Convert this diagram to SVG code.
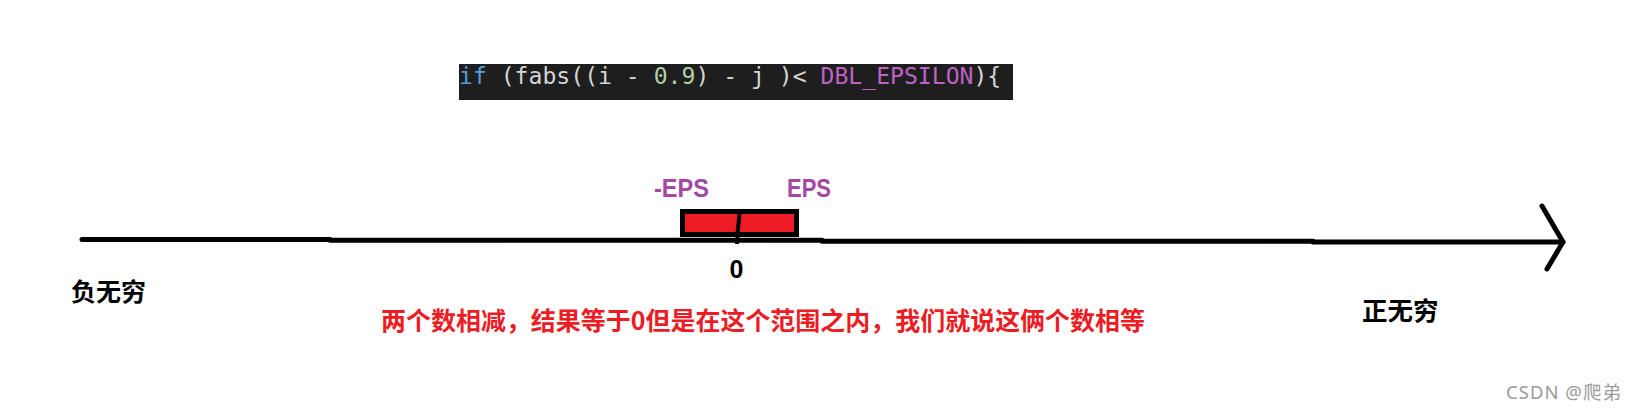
<svg xmlns="http://www.w3.org/2000/svg" width="1636" height="411" viewBox="0 0 1636 411">
  <style>
    .cjk { font-family: "Noto Sans CJK SC", "Noto Sans", sans-serif; font-weight: bold; }
    .lat { font-family: "Liberation Sans", "Noto Sans", sans-serif; font-weight: bold; }
    .eps { fill: #A349A4; font-size: 26px; }
    .axis { stroke: #000; stroke-width: 5; fill: none; stroke-linecap: round; stroke-linejoin: round; }
    .code { font-family: "DejaVu Sans Mono", "Liberation Mono", monospace; font-size: 23.1px; fill: #D4D4D4; }
  </style>
  <rect width="1636" height="411" fill="#ffffff"/>

  <g id="code">
    <rect x="459" y="64" width="554" height="36" fill="#1E1E1E"/>
    <text class="code" x="459" y="83.5"><tspan fill="#569CD6">if</tspan> (fabs((i - <tspan fill="#B5CEA8">0.9</tspan>) - j )&lt; <tspan fill="#BD63C5">DBL_EPSILON</tspan>){</text>
  </g>

  <g id="connectors">
    <path class="axis" d="M82 239.5 L330 239.5"/>
    <path class="axis" d="M330 240.3 L822 240.3" stroke-linecap="butt"/>
    <path class="axis" d="M822 241.2 L1313 241.2" stroke-linecap="butt"/>
    <path class="axis" d="M1313 242 L1563 242" stroke-linecap="butt"/>
    <path class="axis" d="M1542 206 L1563 242 L1547 269"/>
  </g>

  <g id="eps-range">
    <rect x="682.5" y="211.5" width="114" height="23" fill="#ED1C24" stroke="#000" stroke-width="5"/>
    <path d="M739.5 214 L737.8 230 L737 244" stroke="#000" stroke-width="4" fill="none"/>
  </g>

  <g id="label-neg-eps">
    <text class="lat eps" x="654" y="197" textLength="55" lengthAdjust="spacingAndGlyphs">-EPS</text>
  </g>
  <g id="label-eps">
    <text class="lat eps" x="787" y="197" textLength="44" lengthAdjust="spacingAndGlyphs">EPS</text>
  </g>
  <g id="label-zero">
    <text class="lat" x="736.5" y="278" font-size="25" text-anchor="middle" fill="#000">0</text>
  </g>
  <g id="label-neg-inf">
    <text class="cjk" x="71" y="300.5" font-size="25" fill="#000">负无穷</text>
  </g>
  <g id="label-pos-inf">
    <text class="cjk" x="1362" y="320" font-size="25.5" fill="#000">正无穷</text>
  </g>
  <g id="note">
    <text class="cjk" x="381" y="330" font-size="25" fill="#ED1C24" textLength="764" lengthAdjust="spacingAndGlyphs">两个数相减，结果等于0但是在这个范围之内，我们就说这俩个数相等</text>
  </g>
  <g id="watermark">
    <text x="1506" y="399" font-family="Noto Sans, Noto Sans CJK SC, sans-serif" font-size="18.5" fill="#9a9a9a" textLength="115" lengthAdjust="spacing">CSDN @爬弟</text>
  </g>
</svg>
